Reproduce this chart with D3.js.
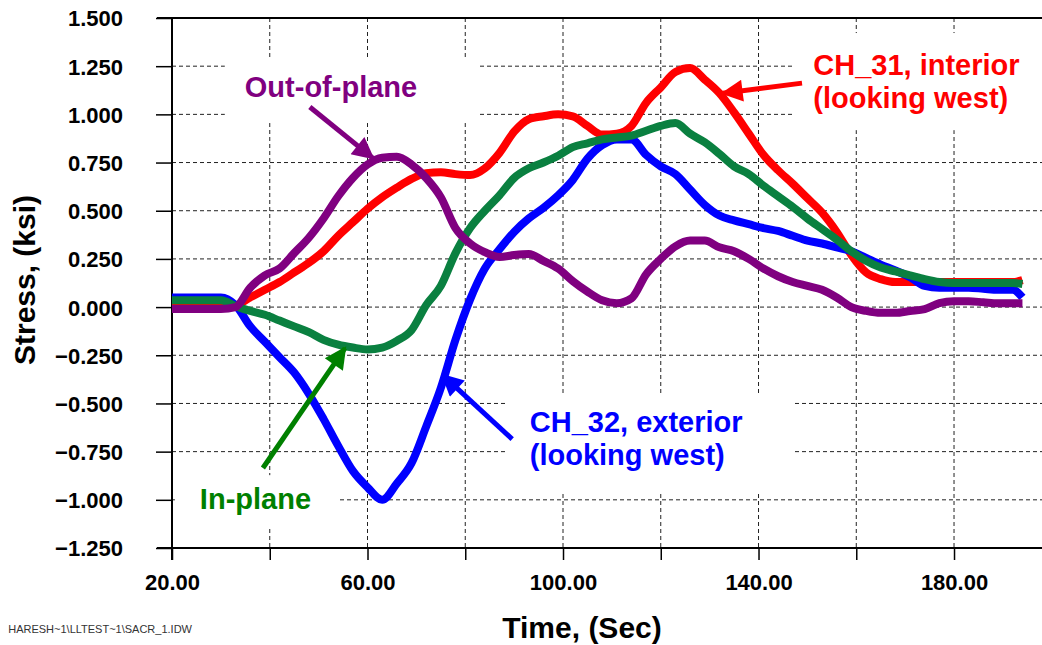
<!DOCTYPE html>
<html>
<head>
<meta charset="utf-8">
<script src="https://cdn.jsdelivr.net/npm/d3@7"></script>
<style>
    body { margin: 0; background: #fff; }
    text { font-family: Arial, 'Liberation Sans', sans-serif; }
    .tick-label { font-size: 22px; font-weight: bold; fill: #000; }
    .axis-title { font-size: 30px; font-weight: bold; fill: #000; }
    .note { font-size: 29px; font-weight: bold; }
</style>
</head>
<body>
<div class="main"></div>
<script>
// time samples (sec)
var time = [20, 25, 30, 33, 36, 39, 42, 45, 48, 51, 54, 57, 60, 63, 66, 69, 72, 75, 78, 81,
    84, 87, 90, 93, 96, 99, 102, 105, 108, 111, 114, 117, 120, 123, 126, 129, 132, 135, 138, 141,
    144, 147, 150, 153, 156, 159, 162, 165, 168, 171, 174, 177, 180, 183, 186, 189, 192, 194];

// stress (ksi)
var ch31Interior = [0.03, 0.03, 0.03, 0.01, 0.05, 0.09, 0.13, 0.18, 0.23, 0.29, 0.37, 0.44, 0.51, 0.57, 0.62, 0.665, 0.695, 0.70, 0.69, 0.685,
    0.72, 0.80, 0.91, 0.975, 0.99, 1.0, 0.99, 0.94, 0.895, 0.90, 0.94, 1.06, 1.14, 1.22, 1.24, 1.18, 1.11, 1.01, 0.90, 0.79,
    0.71, 0.64, 0.565, 0.49, 0.39, 0.27, 0.18, 0.145, 0.13, 0.13, 0.13, 0.13, 0.13, 0.13, 0.13, 0.13, 0.13, 0.14];
var ch32Exterior = [0.05, 0.05, 0.05, 0.01, -0.10, -0.18, -0.26, -0.34, -0.45, -0.58, -0.72, -0.85, -0.935, -1.0, -0.915, -0.81, -0.62, -0.42, -0.17, 0.04,
    0.20, 0.30, 0.39, 0.46, 0.515, 0.58, 0.66, 0.77, 0.84, 0.87, 0.87, 0.79, 0.73, 0.69, 0.61, 0.53, 0.475, 0.45, 0.43, 0.41,
    0.395, 0.37, 0.345, 0.33, 0.31, 0.29, 0.255, 0.22, 0.19, 0.155, 0.11, 0.10, 0.10, 0.10, 0.095, 0.09, 0.09, 0.05];
var inPlane = [0.035, 0.035, 0.035, 0.005, -0.02, -0.04, -0.07, -0.10, -0.13, -0.17, -0.195, -0.21, -0.22, -0.21, -0.175, -0.12, 0.01, 0.11, 0.28, 0.41,
    0.50, 0.58, 0.67, 0.72, 0.75, 0.785, 0.83, 0.85, 0.87, 0.88, 0.89, 0.915, 0.94, 0.955, 0.90, 0.855, 0.795, 0.73, 0.69, 0.63,
    0.575, 0.52, 0.46, 0.405, 0.35, 0.29, 0.24, 0.205, 0.185, 0.165, 0.145, 0.13, 0.125, 0.125, 0.125, 0.125, 0.125, 0.12];
var outOfPlane = [-0.01, -0.01, -0.01, 0.0, 0.10, 0.165, 0.20, 0.28, 0.36, 0.46, 0.575, 0.67, 0.74, 0.775, 0.78, 0.74, 0.67, 0.57, 0.41, 0.33,
    0.285, 0.26, 0.27, 0.275, 0.24, 0.20, 0.135, 0.08, 0.035, 0.02, 0.045, 0.17, 0.25, 0.315, 0.345, 0.345, 0.31, 0.29, 0.25, 0.20,
    0.16, 0.13, 0.11, 0.09, 0.05, 0.0, -0.02, -0.03, -0.03, -0.02, -0.01, 0.02, 0.03, 0.03, 0.025, 0.02, 0.02, 0.02];

var xTicks = [20, 40, 60, 80, 100, 120, 140, 160, 180];
var xLabels = [20, 60, 100, 140, 180];
var yTicks = [-1.25, -1, -0.75, -0.5, -0.25, 0, 0.25, 0.5, 0.75, 1, 1.25, 1.5];

var series = [
    { name: 'CH_31', values: ch31Interior, color: '#ff0000' },
    { name: 'CH_32', values: ch32Exterior, color: '#0000ff' },
    { name: 'In-plane', values: inPlane, color: '#0a8040' },
    { name: 'Out-of-plane', values: outOfPlane, color: '#800080' }
];

// annotations, in data units: text position, arrow tail -> tip, white box behind
var notes = [
    { lines: ['Out-of-plane'], color: '#800080', at: [34.9, 1.09], from: [48.2, 1.038], to: [61.1, 0.773], box: [30.8, 82.6, 1.297, 0.955] },
    { lines: ['CH_31, interior', '(looking west)'], color: '#ff0000', at: [151.2, 1.204], from: [148.9, 1.162], to: [132.7, 1.11], box: [147.1, 198, 1.422, 0.918] },
    { lines: ['CH_32, exterior', '(looking west)'], color: '#0000ff', at: [93.2, -0.649], from: [89.6, -0.685], to: [75.4, -0.353], box: [88.7, 147.1, -0.446, -0.965] },
    { lines: ['In-plane'], color: '#008000', at: [25.7, -1.048], from: [38.6, -0.835], to: [55.4, -0.213], box: [20.6, 53.8, -0.872, -1.142] }
];

var svg = d3.select('.main')
    .append('svg')
    .attr('width', 1042)
    .attr('height', 645);

var x = d3.scaleLinear().domain([20, 198]).range([172, 1042]);
var y = d3.scaleLinear().domain([-1.25, 1.5]).range([548, 18]);

// dashed grid
svg.selectAll('.vgrid')
    .data(xTicks.slice(1))
    .enter()
    .append('line')
    .attr('class', 'vgrid')
    .attr('x1', function (d) { return x(d); })
    .attr('x2', function (d) { return x(d); })
    .attr('y1', y(1.5))
    .attr('y2', y(-1.25))
    .style('stroke', '#222')
    .style('stroke-width', 1)
    .style('stroke-dasharray', '4,3');

svg.selectAll('.hgrid')
    .data(yTicks.slice(1, -1))
    .enter()
    .append('line')
    .attr('class', 'hgrid')
    .attr('x1', x(20))
    .attr('x2', 1042)
    .attr('y1', function (d) { return y(d); })
    .attr('y2', function (d) { return y(d); })
    .style('stroke', '#222')
    .style('stroke-width', 1)
    .style('stroke-dasharray', '4,3');

// white boxes behind the notes hide the grid there
svg.selectAll('.notebox')
    .data(notes)
    .enter()
    .append('rect')
    .attr('class', 'notebox')
    .attr('x', function (d) { return x(d.box[0]); })
    .attr('y', function (d) { return y(d.box[2]); })
    .attr('width', function (d) { return x(d.box[1]) - x(d.box[0]); })
    .attr('height', function (d) { return y(d.box[3]) - y(d.box[2]); })
    .style('fill', '#fff');

// axes
var yAxis = d3.axisLeft(y)
    .tickValues(yTicks)
    .tickSize(16)
    .tickFormat(d3.format('.3f'));
var gy = svg.append('g')
    .attr('transform', 'translate(' + [x(20), 0] + ')')
    .call(yAxis);
gy.select('.domain').remove();
gy.selectAll('line').style('stroke', '#000').style('stroke-width', 1.5);
gy.selectAll('text')
    .attr('class', 'tick-label')
    .attr('x', -49)
    .attr('dy', '0.36em');

var xAxis = d3.axisBottom(x)
    .tickValues(xTicks)
    .tickSize(12)
    .tickFormat(function (d) { return xLabels.indexOf(d) >= 0 ? d3.format('.2f')(d) : ''; });
var gx = svg.append('g')
    .attr('transform', 'translate(' + [0, y(-1.25)] + ')')
    .call(xAxis);
gx.select('.domain').remove();
gx.selectAll('line').style('stroke', '#000').style('stroke-width', 1.5);
gx.selectAll('text')
    .attr('class', 'tick-label')
    .attr('y', 42)
    .attr('dy', 0);

// frame lines
svg.append('line')
    .attr('x1', 157).attr('x2', 1042)
    .attr('y1', y(1.5)).attr('y2', y(1.5))
    .style('stroke', '#000').style('stroke-width', 2);
svg.append('line')
    .attr('x1', 157).attr('x2', 1042)
    .attr('y1', y(-1.25)).attr('y2', y(-1.25))
    .style('stroke', '#000').style('stroke-width', 2);
svg.append('line')
    .attr('x1', x(20)).attr('x2', x(20))
    .attr('y1', y(1.5)).attr('y2', y(-1.25) + 12)
    .style('stroke', '#000').style('stroke-width', 2);

// data lines
var line = d3.line()
    .x(function (d, i) { return x(time[i]); })
    .y(function (d) { return y(d); })
    .curve(d3.curveMonotoneX);

svg.selectAll('.series')
    .data(series)
    .enter()
    .append('path')
    .attr('class', 'series')
    .attr('d', function (d) { return line(d.values); })
    .style('fill', 'none')
    .style('stroke', function (d) { return d.color; })
    .style('stroke-width', 8)
    .style('stroke-linejoin', 'round');

// arrows
var defs = svg.append('defs');
notes.forEach(function (d, i) {
    defs.append('marker')
        .attr('id', 'head' + i)
        .attr('viewBox', '0 0 10 10')
        .attr('refX', 9)
        .attr('refY', 5)
        .attr('markerWidth', 5)
        .attr('markerHeight', 4.4)
        .attr('orient', 'auto')
        .attr('markerUnits', 'strokeWidth')
        .append('path')
        .attr('d', 'M0,0L10,5L0,10Z')
        .style('fill', d.color);
});

svg.selectAll('.arrow')
    .data(notes)
    .enter()
    .append('line')
    .attr('class', 'arrow')
    .attr('x1', function (d) { return x(d.from[0]); })
    .attr('y1', function (d) { return y(d.from[1]); })
    .attr('x2', function (d) { return x(d.to[0]); })
    .attr('y2', function (d) { return y(d.to[1]); })
    .attr('marker-end', function (d, i) { return 'url(#head' + i + ')'; })
    .style('stroke', function (d) { return d.color; })
    .style('stroke-width', 5);

// note texts
var noteText = svg.selectAll('.note')
    .data(notes)
    .enter()
    .append('text')
    .attr('class', 'note')
    .attr('x', function (d) { return x(d.at[0]); })
    .attr('y', function (d) { return y(d.at[1]); })
    .style('fill', function (d) { return d.color; });

noteText.selectAll('tspan')
    .data(function (d) { return d.lines.map(function (s) { return { s: s, x: x(d.at[0]) }; }); })
    .enter()
    .append('tspan')
    .attr('x', function (d) { return d.x; })
    .attr('dy', function (d, i) { return i === 0 ? 0 : 33; })
    .text(function (d) { return d.s; });

// axis titles
svg.append('text')
    .attr('class', 'axis-title')
    .attr('transform', 'translate(' + [35, 280] + ') rotate(-90)')
    .attr('text-anchor', 'middle')
    .text('Stress, (ksi)');

svg.append('text')
    .attr('class', 'axis-title')
    .attr('x', 582)
    .attr('y', 638)
    .attr('text-anchor', 'middle')
    .text('Time, (Sec)');

// file path footer
svg.append('text')
    .attr('x', 192)
    .attr('y', 633)
    .attr('text-anchor', 'end')
    .style('font-size', '11px')
    .style('fill', '#333')
    .text('HARESH~1\\LLTEST~1\\SACR_1.IDW');
</script>
</body>
</html>
